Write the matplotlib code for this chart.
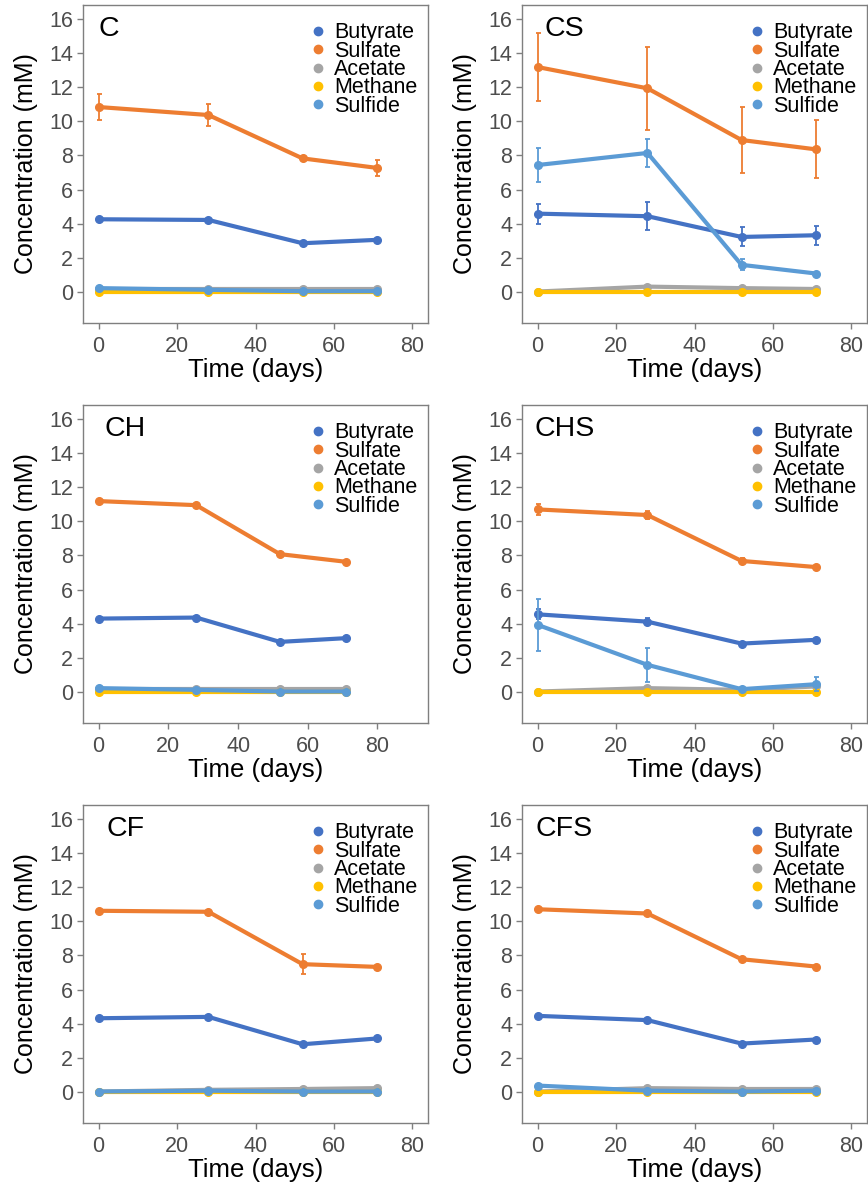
import matplotlib
matplotlib.use("Agg")
import matplotlib.pyplot as plt
import numpy as np

plt.rcParams['font.family'] = ['Liberation Sans', 'DejaVu Sans']

# sampling days
days = [0, 28, 52, 71]
species = ["Butyrate", "Sulfate", "Acetate", "Methane", "Sulfide"]
colors = ["#4472C4", "#ED7D31", "#A5A5A5", "#FFC000", "#5B9BD5"]

# mean concentrations (mM), rows follow `species`
C_mean = [[4.25, 4.21, 2.84, 3.04],
          [10.85, 10.38, 7.83, 7.27],
          [0.15, 0.15, 0.15, 0.15],
          [0.0, 0.0, 0.0, 0.0],
          [0.2, 0.1, 0.02, 0.02]]
C_err = [[0.08, 0.08, 0.08, 0.08],
         [0.75, 0.62, 0.15, 0.47],
         [0, 0, 0, 0],
         [0, 0, 0, 0],
         [0, 0, 0, 0]]

CS_mean = [[4.58, 4.43, 3.21, 3.31],
           [13.2, 11.95, 8.91, 8.36],
           [0.0, 0.29, 0.2, 0.15],
           [0.0, 0.0, 0.0, 0.0],
           [7.44, 8.15, 1.57, 1.06]]
CS_err = [[0.59, 0.82, 0.56, 0.56],
          [1.99, 2.45, 1.92, 1.71],
          [0, 0.08, 0, 0],
          [0, 0, 0, 0],
          [0.98, 0.81, 0.33, 0.1]]

CH_mean = [[4.29, 4.35, 2.92, 3.14],
           [11.2, 10.96, 8.08, 7.63],
           [0.15, 0.15, 0.15, 0.15],
           [0.0, 0.0, 0.0, 0.0],
           [0.2, 0.1, 0.0, 0.0]]
CH_err = [[0, 0.05, 0, 0],
          [0.05, 0.05, 0.08, 0.05],
          [0, 0, 0, 0],
          [0, 0, 0, 0],
          [0, 0, 0, 0]]

CHS_mean = [[4.54, 4.11, 2.82, 3.04],
            [10.71, 10.38, 7.68, 7.32],
            [0.0, 0.2, 0.1, 0.3],
            [0.0, 0.0, 0.0, 0.0],
            [3.92, 1.57, 0.14, 0.43]]
CHS_err = [[0.3, 0.2, 0.08, 0.05],
           [0.3, 0.25, 0.2, 0.15],
           [0, 0, 0, 0],
           [0, 0, 0, 0],
           [1.55, 1.0, 0.08, 0.4]]

CF_mean = [[4.31, 4.39, 2.78, 3.12],
           [10.63, 10.57, 7.49, 7.33],
           [0.0, 0.1, 0.15, 0.2],
           [0.0, 0.0, 0.0, 0.0],
           [0.0, 0.05, 0.0, 0.0]]
CF_err = [[0.05, 0.05, 0.05, 0.05],
          [0.05, 0.05, 0.57, 0.05],
          [0, 0, 0, 0],
          [0, 0, 0, 0],
          [0, 0, 0, 0]]

CFS_mean = [[4.45, 4.2, 2.82, 3.06],
            [10.72, 10.47, 7.78, 7.35],
            [0.0, 0.2, 0.15, 0.15],
            [0.0, 0.0, 0.0, 0.0],
            [0.35, 0.05, 0.0, 0.05]]
CFS_err = [[0.05, 0.15, 0.05, 0.05],
           [0.05, 0.05, 0.08, 0.05],
           [0, 0, 0, 0],
           [0, 0, 0, 0],
           [0, 0, 0, 0]]

panel_names = ["C", "CS", "CH", "CHS", "CF", "CFS"]
panel_means = [C_mean, CS_mean, CH_mean, CHS_mean, CF_mean, CFS_mean]
panel_errs = [C_err, CS_err, CH_err, CHS_err, CF_err, CFS_err]


fig = plt.figure(figsize=(8.68, 11.86), dpi=100)

W, H = 868.0, 1186.0
lefts = [83, 522]
tops = [5, 405, 805]
aw, ah = 345, 318

frame_col = "#7F7F7F"
tick_col = "#4D4D4D"

for k in range(6):
    row, col = k // 2, k % 2
    ax = fig.add_axes([lefts[col] / W, 1 - (tops[row] + ah) / H, aw / W, ah / H])
    mean = np.array(panel_means[k])
    err = np.array(panel_errs[k])

    for i in range(len(species)):
        ax.plot(days, mean[i], color=colors[i], lw=3.0, marker='o', ms=5.5,
                solid_capstyle='round', label=species[i], zorder=2 + i * 0.1)
        e = err[i]
        if e.max() > 0:
            ax.errorbar(days, mean[i], yerr=e, fmt='none', ecolor=colors[i],
                        elinewidth=1.3, capsize=1.8, capthick=1.3, zorder=2 + i * 0.1)

    ax.set_ylim(-1.85, 16.85)
    if panel_names[k] == "CH":
        ax.set_xlim(-4.5, 94.5)
    else:
        ax.set_xlim(-4.0, 84.0)
    ax.set_xticks([0, 20, 40, 60, 80])
    ax.set_yticks([0, 2, 4, 6, 8, 10, 12, 14, 16])

    for s in ax.spines.values():
        s.set_color(frame_col)
        s.set_linewidth(1.0)
    ax.tick_params(axis='both', colors=frame_col, labelcolor=tick_col,
                   labelsize=15.5, length=4, width=1.0, direction='out')
    ax.tick_params(axis='x', pad=5)
    ax.tick_params(axis='y', pad=3)

    ax.set_xlabel("Time (days)", fontsize=18.5, labelpad=1)
    ax.set_ylabel("Concentration (mM)", fontsize=18, labelpad=8)

    tx = 0.075 if panel_names[k] == "C" else 0.123
    ax.text(tx, 0.925, panel_names[k], transform=ax.transAxes, fontsize=20.5,
            ha='center', va='center')

    leg = ax.legend(loc='upper left', bbox_to_anchor=(0.616, 1.0), frameon=False,
                    fontsize=15.5, handlelength=0.5, handletextpad=0.5,
                    labelspacing=-0.12, borderpad=0.3)
    for h in leg.legend_handles:
        h.set_linestyle('none')
        h.set_markersize(6)

fig.savefig("out.png", dpi=100)
